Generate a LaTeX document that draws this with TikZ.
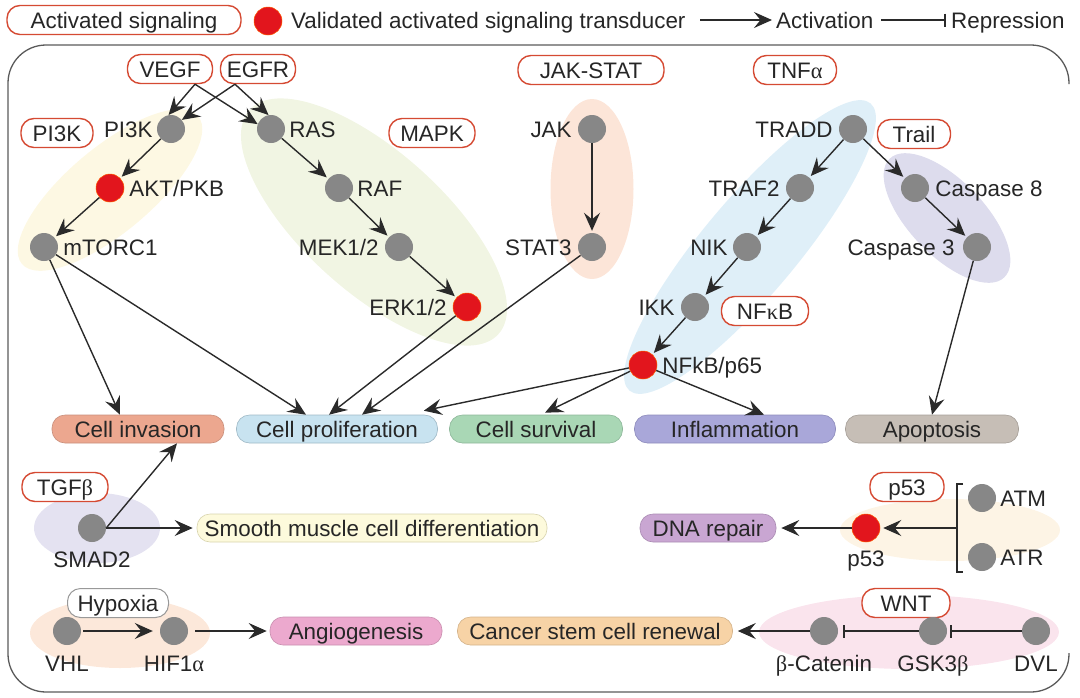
\documentclass[tikz,border=0pt]{standalone}
\usepackage{fontspec}
\setmainfont{Liberation Sans}
\newfontfamily\grk{Liberation Serif}
\usetikzlibrary{arrows.meta,calc,shapes.geometric}
\definecolor{txt}{HTML}{262626}
\definecolor{linec}{HTML}{2A2A2A}
\definecolor{framec}{HTML}{5A5A5A}
\definecolor{sigred}{HTML}{D54A33}
\definecolor{dotred}{HTML}{E2151D}
\definecolor{dotgray}{HTML}{878787}
\definecolor{bPI}{HTML}{FDF8E3}
\definecolor{bMAPK}{HTML}{F1F5E3}
\definecolor{bJAK}{HTML}{FCE5D8}
\definecolor{bNF}{HTML}{DFEFF8}
\definecolor{bCasp}{HTML}{DDDCED}
\definecolor{bTGF}{HTML}{E4E2F1}
\definecolor{bHyp}{HTML}{FCE8DA}
\definecolor{bPf}{HTML}{FDF4E5}
\definecolor{bWNT}{HTML}{FAE4ED}
\definecolor{cinv}{HTML}{ECA78F}\definecolor{cinvd}{HTML}{C98F7C}
\definecolor{cprol}{HTML}{C8E3F0}\definecolor{cprold}{HTML}{9FB9C6}
\definecolor{csurv}{HTML}{A9D7B5}\definecolor{csurvd}{HTML}{8DB79A}
\definecolor{cinfl}{HTML}{A9A7D9}\definecolor{cinfld}{HTML}{8E8CBC}
\definecolor{capop}{HTML}{C6BEB6}\definecolor{capopd}{HTML}{A69F98}
\definecolor{csmo}{HTML}{FDFADC}\definecolor{csmod}{HTML}{D8D4AE}
\definecolor{cdna}{HTML}{C9A6D2}\definecolor{cdnad}{HTML}{AA8BB3}
\definecolor{cang}{HTML}{ECA9CE}\definecolor{cangd}{HTML}{C98FAF}
\definecolor{ccsc}{HTML}{F7D3A6}\definecolor{ccscd}{HTML}{D4B38A}
\begin{document}
\begin{tikzpicture}[x=1pt,y=-1pt,
  font=\fontsize{22.4}{26}\selectfont,
  dot/.style={circle, fill=dotgray, minimum size=28pt, inner sep=0pt},
  rdot/.style={circle, fill=dotred, draw=orange!70!red, line width=0.5pt, minimum size=28pt, inner sep=0pt},
  sig/.style={draw=sigred, line width=1.4pt, fill=white, rounded corners=13pt, minimum height=29pt, inner xsep=3pt, inner ysep=0pt, text=txt, text height=16pt, text depth=0pt},
  outc/.style={rounded corners=13pt, minimum height=28pt, inner xsep=3pt, inner ysep=0pt, text=txt, line width=0.6pt, text height=16pt, text depth=0pt},
  lbl/.style={text=txt, inner sep=0pt, text height=16pt, text depth=0pt},
  act/.style={draw=linec, line width=1.4pt, -{Stealth[length=18pt,width=16pt,inset=6.5pt]}},
  rep/.style={draw=linec, line width=1.4pt, -{Bar[width=13pt,line width=1.8pt]}},
  blob/.style={ellipse, inner sep=0pt, draw=none}]
\useasboundingbox (0,0) rectangle (1080,697);
% frame
\draw[framec, line width=1.3pt, rounded corners=38pt] (1069,84) -- (1069,45) -- (8,45) -- (8,692) -- (1069,692) -- (1069,653);
% background blobs
\node[blob, fill=bPI, minimum width=230pt, minimum height=85pt, rotate=40] (blobPI) at (110,190) {};
\node[blob, fill=bMAPK, minimum width=335pt, minimum height=140pt, rotate=-42] (blobMAPK) at (374,222) {};
\node[blob, fill=bJAK, minimum width=83pt, minimum height=180pt] (blobJAK) at (592,189) {};
\node[blob, fill=bNF, minimum width=375pt, minimum height=95pt, rotate=50] (blobNF) at (750,247) {};
\node[blob, fill=bCasp, minimum width=165pt, minimum height=75pt, rotate=-46] (blobCasp) at (947,218) {};
\node[blob, fill=bTGF, minimum width=126pt, minimum height=70pt] (blobTGF) at (97,528) {};
\node[blob, fill=bHyp, minimum width=180pt, minimum height=70pt] (blobHyp) at (120,633) {};
\node[blob, fill=bPf, minimum width=220pt, minimum height=62pt] (blobP53) at (950,530) {};
\node[blob, fill=bWNT, minimum width=300pt, minimum height=74pt] (blobWNT) at (909,632) {};
% legend
\node[sig, minimum width=234pt] (leg) at (124,20) {Activated signaling};
\node[rdot] (legdot) at (268,21) {};
\node[lbl, anchor=west] (legtxt) at (291,20) {Validated activated signaling transducer};
\coordinate (la1) at (700,20); \coordinate (la2) at (772,20);
\draw[act] (la1) -- (la2);
\node[lbl, anchor=west] (legact) at (776,20) {Activation};
\coordinate (lr1) at (881,20); \coordinate (lr2) at (946,20);
\draw[rep] (lr1) -- (lr2);
\node[lbl, anchor=west] (legrep) at (951,20) {Repression};
% pathway labels
\node[sig, minimum width=85pt] (VEGF) at (170,69) {VEGF};
\node[sig, minimum width=75pt] (EGFR) at (258,69) {EGFR};
\node[sig, minimum width=146pt] (JAKSTAT) at (591,70) {JAK-STAT};
\node[sig, minimum width=83pt] (TNFa) at (795,70) {TNF{\grk α}};
\node[sig, minimum width=72pt] (PIbox) at (57,133) {PI3K};
\node[sig, minimum width=86pt] (MAPK) at (432,133) {MAPK};
\node[sig, minimum width=73pt] (Trail) at (914,134) {Trail};
\node[sig, minimum width=87pt] (NFbox) at (765,311) {NF{\grk κ}B};
\node[sig, minimum width=86pt] (TGFb) at (65,487) {TGF{\grk β}};
\node[sig, minimum width=74pt] (p53box) at (907,487) {p53};
\node[sig, minimum width=88pt] (WNT) at (906,603) {WNT};
\node[sig, draw=gray!80, line width=1pt, minimum width=101pt] (Hypoxia) at (118,603) {Hypoxia};
% transducers
\node[dot] (PI3K) at (171,129) {};
\node[rdot] (AKT) at (110,188) {};
\node[dot] (mTORC1) at (44,247) {};
\node[dot] (RAS) at (271,129) {};
\node[dot] (RAF) at (339,188) {};
\node[dot] (MEK) at (399,247) {};
\node[rdot] (ERK) at (467,307) {};
\node[dot] (JAK) at (592,129) {};
\node[dot] (STAT3) at (592,247) {};
\node[dot] (TRADD) at (853,129) {};
\node[dot] (TRAF2) at (800,188) {};
\node[dot] (NIK) at (747,247) {};
\node[dot] (IKK) at (695,307) {};
\node[rdot] (NFkB) at (643,365) {};
\node[dot] (Casp8) at (915,188) {};
\node[dot] (Casp3) at (977,247) {};
\node[dot] (SMAD2) at (92,528) {};
\node[dot] (VHL) at (67,631) {};
\node[dot] (HIF) at (174,631) {};
\node[rdot] (p53) at (866,528) {};
\node[dot] (ATM) at (982,498) {};
\node[dot] (ATR) at (982,557) {};
\node[dot] (bcat) at (824,631) {};
\node[dot] (GSK) at (933,631) {};
\node[dot] (DVL) at (1036,631) {};
% transducer labels
\node[lbl, anchor=east] (tPI3K) at ($(PI3K.west)+(-4,0)$) {PI3K};
\node[lbl, anchor=west] (tAKT) at ($(AKT.east)+(5,0)$) {AKT/PKB};
\node[lbl, anchor=west] (tmTOR) at ($(mTORC1.east)+(5,0)$) {mTORC1};
\node[lbl, anchor=west] (tRAS) at ($(RAS.east)+(4,0)$) {RAS};
\node[lbl, anchor=west] (tRAF) at ($(RAF.east)+(4,0)$) {RAF};
\node[lbl, anchor=east] (tMEK) at ($(MEK.west)+(-6,0)$) {MEK1/2};
\node[lbl, anchor=east] (tERK) at ($(ERK.west)+(-6,0)$) {ERK1/2};
\node[lbl, anchor=east] (tJAK) at ($(JAK.west)+(-6,0)$) {JAK};
\node[lbl, anchor=east] (tSTAT3) at ($(STAT3.west)+(-6,0)$) {STAT3};
\node[lbl, anchor=east] (tTRADD) at ($(TRADD.west)+(-6,0)$) {TRADD};
\node[lbl, anchor=east] (tTRAF2) at ($(TRAF2.west)+(-6,0)$) {TRAF2};
\node[lbl, anchor=east] (tNIK) at ($(NIK.west)+(-5,0)$) {NIK};
\node[lbl, anchor=east] (tIKK) at ($(IKK.west)+(-6,0)$) {IKK};
\node[lbl, anchor=west] (tNFkB) at ($(NFkB.east)+(5,0)$) {NFkB/p65};
\node[lbl, anchor=west] (tCasp8) at ($(Casp8.east)+(6,0)$) {Caspase 8};
\node[lbl, anchor=east] (tCasp3) at ($(Casp3.west)+(-8,0)$) {Caspase 3};
\node[lbl] (tSMAD2) at ($(SMAD2)+(0,31)$) {SMAD2};
\node[lbl] (tVHL) at ($(VHL)+(0,32)$) {VHL};
\node[lbl] (tHIF) at ($(HIF)+(0,32)$) {HIF1{\grk α}};
\node[lbl] (tp53) at ($(p53)+(0,30)$) {p53};
\node[lbl, anchor=west] (tATM) at ($(ATM.east)+(4,0)$) {ATM};
\node[lbl, anchor=west] (tATR) at ($(ATR.east)+(4,0)$) {ATR};
\node[lbl] (tbcat) at ($(bcat)+(0,32)$) {{\grk β}-Catenin};
\node[lbl] (tGSK) at ($(GSK)+(0,32)$) {GSK3{\grk β}};
\node[lbl] (tDVL) at ($(DVL)+(0,32)$) {DVL};
% outcomes
\node[outc, fill=cinv, draw=cinvd, minimum width=172pt] (inv) at (138,429) {Cell invasion};
\node[outc, fill=cprol, draw=cprold, minimum width=201pt] (prol) at (337,429) {Cell proliferation};
\node[outc, fill=csurv, draw=csurvd, minimum width=173pt] (surv) at (536,429) {Cell survival};
\node[outc, fill=cinfl, draw=cinfld, minimum width=201pt] (infl) at (735,429) {Inflammation};
\node[outc, fill=capop, draw=capopd, minimum width=173pt] (apop) at (932,429) {Apoptosis};
\node[outc, fill=csmo, draw=csmod, minimum width=350pt] (smooth) at (372,528) {Smooth muscle cell differentiation};
\node[outc, fill=cdna, draw=cdnad, minimum width=136pt] (dna) at (708,528) {DNA repair};
\node[outc, fill=cang, draw=cangd, minimum width=172pt] (angio) at (356,631) {Angiogenesis};
\node[outc, fill=ccsc, draw=ccscd, minimum width=275pt] (csc) at (595,631) {Cancer stem cell renewal};
% bracket
\coordinate (brT) at (957,484); \coordinate (brB) at (957,572); \coordinate (brM) at (957,528);
\draw[linec, line width=1.3pt] ($(brT)+(6,0)$) -- (brT) -- (brB) -- ($(brB)+(6,0)$);
% edges
\draw[act] ($(VEGF.south)+(25,0)$) -- (PI3K.100);
\draw[act] ($(VEGF.south)+(25,0)$) -- (RAS.160);
\draw[act] ($(EGFR.south)+(-23,0)$) -- (PI3K.40);
\draw[act] ($(EGFR.south)+(-23,0)$) -- (RAS.100);
\draw[act, shorten >=2pt] (PI3K) -- (AKT);
\draw[act, shorten >=2pt] (AKT) -- (mTORC1);
\draw[act, shorten >=2pt] (RAS) -- (RAF);
\draw[act, shorten >=2pt] (RAF) -- (MEK);
\draw[act, shorten >=2pt] (MEK) -- (ERK);
\draw[act, shorten >=2pt] (JAK) -- (STAT3);
\draw[act, shorten >=2pt] (TRADD) -- (TRAF2);
\draw[act, shorten >=2pt] (TRAF2) -- (NIK);
\draw[act, shorten >=2pt] (NIK) -- (IKK);
\draw[act, shorten >=2pt] (IKK) -- (NFkB);
\draw[act, shorten >=2pt] (TRADD) -- (Casp8);
\draw[act, shorten >=2pt] (Casp8) -- (Casp3);
\draw[act] (mTORC1) -- ($(inv.north)+(-18,0)$);
\draw[act] (mTORC1) -- ($(prol.north)+(-31,0)$);
\draw[act] (ERK) -- ($(prol.north)+(-8,0)$);
\draw[act] (STAT3) -- ($(prol.north)+(25,0)$);
\draw[act] (NFkB) -- ($(prol.north east)+(-14,-4)$);
\draw[act] (NFkB) -- ($(surv.north)+(9,-2)$);
\draw[act] (NFkB) -- ($(infl.north)+(29,0)$);
\draw[act] (Casp3) -- (apop.north);
\draw[act] (SMAD2.east) -- ($(inv.south)+(39,0)$);
\draw[act, shorten >=4pt] (SMAD2.east) -- (smooth.west);
\draw[act, shorten <=2pt, shorten >=7pt] (VHL) -- (HIF);
\draw[act, shorten <=7pt, shorten >=3pt] (HIF) -- (angio);
\draw[act, shorten >=5pt] (p53) -- (dna);
\draw[act, shorten >=3pt] (brM) -- (p53);
\draw[rep, shorten >=3pt] (DVL) -- (GSK);
\draw[rep, shorten >=5pt] (GSK) -- (bcat);
\draw[act, shorten >=5pt] (bcat) -- (csc);
\end{tikzpicture}
\end{document}
